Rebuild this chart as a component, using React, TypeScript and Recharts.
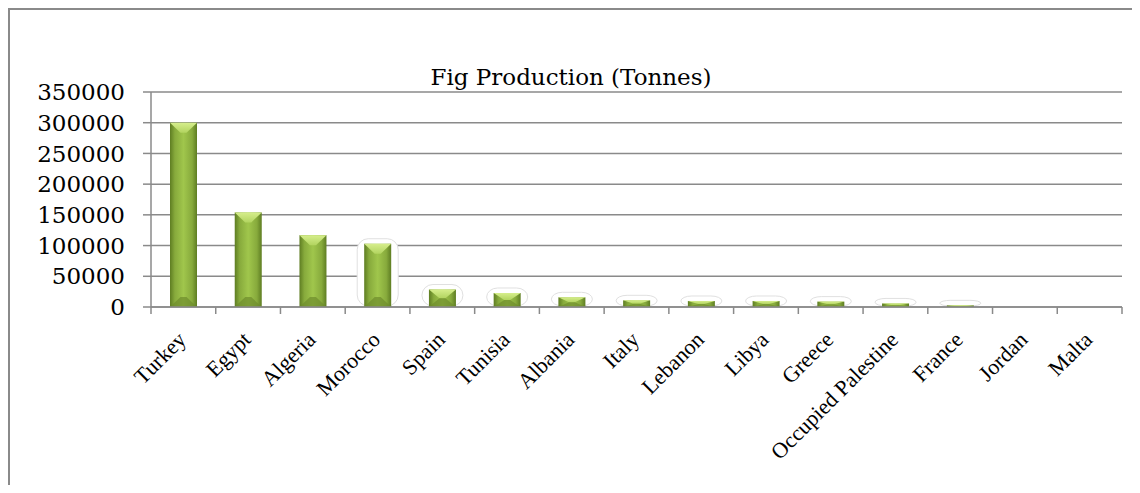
import React from "react";
import { BarChart, Bar, XAxis, YAxis, CartesianGrid } from "recharts";

const countries = [
  "Turkey",
  "Egypt",
  "Algeria",
  "Morocco",
  "Spain",
  "Tunisia",
  "Albania",
  "Italy",
  "Lebanon",
  "Libya",
  "Greece",
  "Occupied Palestine",
  "France",
  "Jordan",
  "Malta",
];

const tonnes = [
  300000, 154000, 117000, 103000, 28500, 22800, 15800, 10900, 9800, 9800, 8800,
  5800, 2700, 200, 100,
];

const yTicks = [0, 50000, 100000, 150000, 200000, 250000, 300000, 350000];

const data = countries.map((country, i) => ({ country, tonnes: tonnes[i] }));

const GRID = "#8a8a8a";

// Excel-style bevelled bar; the short ones get a soft glow behind them
const BevelBar = (props: any) => {
  const { x, y, width, height } = props;
  if (!height || height < 0.5) return null;
  const b = Math.min(10, height / 2);
  return (
    <g>
      {height < 70 && (
        <rect
          x={x - 7}
          y={y - 5}
          width={width + 14}
          height={height + 4}
          rx={11}
          fill="#ffffff"
          stroke="#e0e0e0"
          strokeWidth={1}
        />
      )}
      <rect x={x} y={y} width={width} height={height} fill="url(#barFace)" />
      <polygon
        points={`${x},${y} ${x + width},${y} ${x + width / 2 + 3},${y + b} ${x + width / 2 - 3},${y + b}`}
        fill="url(#barTop)"
      />
      <polygon
        points={`${x},${y + height} ${x + width},${y + height} ${x + width / 2 + 3},${y + height - b} ${x + width / 2 - 3},${y + height - b}`}
        fill="#6e8c2c"
        opacity={0.7}
      />
    </g>
  );
};

const CountryTick = (props: any) => {
  const { x, y, payload, index, width, visibleTicksCount } = props;
  const band = width / (visibleTicksCount || countries.length);
  const tx = x + 4;
  const ty = y + 34;
  return (
    <g>
      <line x1={x - band / 2} y1={y} x2={x - band / 2} y2={y + 7} stroke={GRID} strokeWidth={1.5} />
      {index === countries.length - 1 && (
        <line x1={x + band / 2} y1={y} x2={x + band / 2} y2={y + 7} stroke={GRID} strokeWidth={1.5} />
      )}
      <text
        x={tx}
        y={ty}
        transform={`rotate(-45, ${tx}, ${ty})`}
        textAnchor="end"
        fill="#000"
        fontFamily="'Liberation Serif', serif"
        fontSize={22}
      >
        {payload.value}
      </text>
    </g>
  );
};

export default function App() {
  return (
    <div
      style={{
        position: "relative",
        width: 1122,
        height: 475,
        borderTop: `2px solid ${GRID}`,
        borderLeft: `2px solid ${GRID}`,
        background: "#fff",
      }}
    >
      <div
        style={{
          position: "absolute",
          top: 53,
          left: 0,
          width: "100%",
          textAlign: "center",
          fontFamily: "'DejaVu Serif', serif",
          fontSize: 23,
          lineHeight: "28px",
          color: "#000",
        }}
      >
        Fig Production (Tonnes)
      </div>
      <BarChart
        width={1122}
        height={475}
        data={data}
        margin={{ top: 82, right: 10, bottom: 0, left: 0 }}
      >
        <defs>
          <linearGradient id="barFace" x1="0" y1="0" x2="1" y2="0">
            <stop offset="0%" stopColor="#5e7d22" />
            <stop offset="18%" stopColor="#87aa3c" />
            <stop offset="50%" stopColor="#a0c64c" />
            <stop offset="82%" stopColor="#87aa3c" />
            <stop offset="100%" stopColor="#5e7d22" />
          </linearGradient>
          <linearGradient id="barTop" x1="0" y1="0" x2="0" y2="1">
            <stop offset="0%" stopColor="#d6ee8c" />
            <stop offset="100%" stopColor="#b2d460" />
          </linearGradient>
        </defs>
        <CartesianGrid vertical={false} stroke={GRID} strokeWidth={1.5} />
        <YAxis
          width={141}
          domain={[0, 350000]}
          ticks={yTicks}
          interval={0}
          tickSize={8}
          tickMargin={18}
          axisLine={{ stroke: GRID, strokeWidth: 1.5 }}
          tickLine={{ stroke: GRID, strokeWidth: 1.5 }}
          tick={{ fill: "#000", fontFamily: "'DejaVu Serif', serif", fontSize: 23 }}
        />
        <XAxis
          dataKey="country"
          height={178}
          interval={0}
          tickSize={0}
          tickMargin={0}
          tickLine={false}
          axisLine={{ stroke: GRID, strokeWidth: 1.5 }}
          tick={<CountryTick />}
        />
        <Bar dataKey="tonnes" barSize={27} shape={<BevelBar />} isAnimationActive={false} />
      </BarChart>
    </div>
  );
}
